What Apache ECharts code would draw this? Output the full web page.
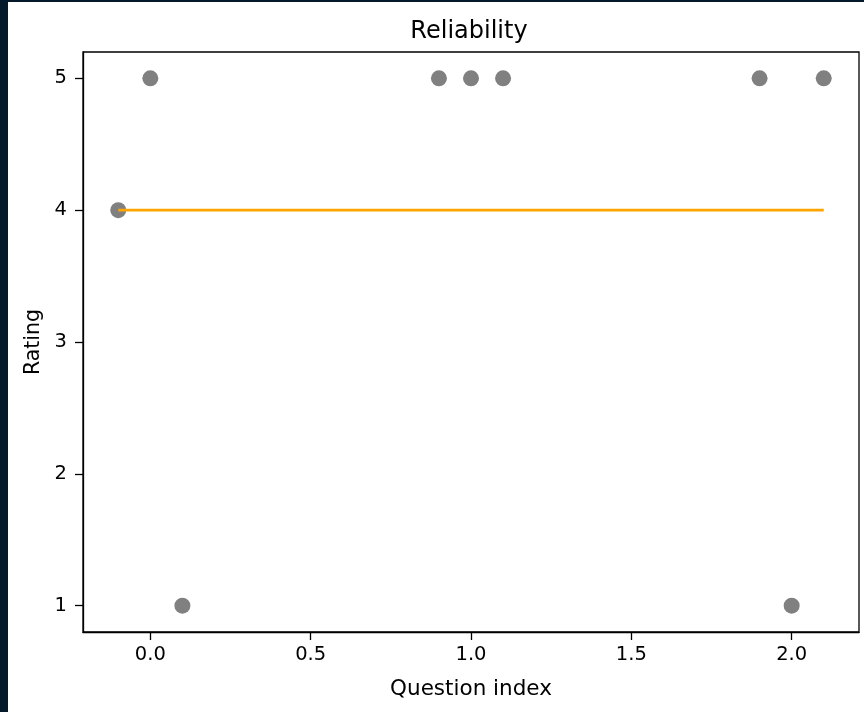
<!DOCTYPE html>
<html>
<head>
<meta charset="utf-8">
<script src="https://cdn.jsdelivr.net/npm/echarts@6/dist/echarts.min.js"></script>
<style>
    html, body {margin: 0; padding: 0; background: #04192a;}
    #chart {position: absolute; left: 8px; top: 2px; width: 856px; height: 710px; background: #ffffff;}
</style>
</head>
<body>
<div id="chart"></div>
<script>
// 数据
var questionIdx = [-0.1, 0, 0.1, 0.9, 1, 1.1, 1.9, 2, 2.1];
var ratings = [4, 5, 1, 5, 5, 5, 5, 1, 5];
var meanX = [-0.1, 2.1];
var meanY = [4, 4];
var xTicks = [0, 0.5, 1, 1.5, 2];
var yTicks = [1, 2, 3, 4, 5];

var font = 'DejaVu Sans';
var pts = questionIdx.map(function (x, i) { return [x, ratings[i]]; });
var meanLine = meanX.map(function (x, i) { return [x, meanY[i]]; });

var myChart = echarts.init(document.getElementById('chart'));
var option = {
    animation: false,
    title: {
        text: 'Reliability',
        left: 456,
        top: 13,
        textAlign: 'center',
        textStyle: {fontFamily: font, fontSize: 24, fontWeight: 'normal', color: '#000'}
    },
    grid: {
        left: 75, top: 50, right: 5, bottom: 80,
        show: true, borderColor: '#000', borderWidth: 1.3, backgroundColor: '#fff'
    },
    xAxis: {
        type: 'value',
        min: -0.21, max: 2.21,
        name: 'Question index',
        nameLocation: 'middle',
        nameGap: 46,
        nameTextStyle: {fontFamily: font, fontSize: 21.5, color: '#000'},
        axisLine: {show: true, onZero: false, lineStyle: {color: '#000', width: 1.3}},
        axisTick: {show: true, length: 8, customValues: xTicks, lineStyle: {color: '#000', width: 1.3}},
        axisLabel: {
            fontFamily: font, fontSize: 19.5, color: '#000', margin: 13,
            customValues: xTicks,
            formatter: function (v) { return v.toFixed(1); }
        },
        splitLine: {show: false}
    },
    yAxis: {
        type: 'value',
        min: 0.8, max: 5.2,
        name: 'Rating',
        nameLocation: 'middle',
        nameGap: 38,
        nameTextStyle: {fontFamily: font, fontSize: 20.5, color: '#000'},
        axisLine: {show: true, onZero: false, lineStyle: {color: '#000', width: 1.3}},
        axisTick: {show: true, length: 8, customValues: yTicks, lineStyle: {color: '#000', width: 1.3}},
        axisLabel: {
            fontFamily: font, fontSize: 19.5, color: '#000', margin: 16,
            customValues: yTicks
        },
        splitLine: {show: false}
    },
    series: [
        {
            type: 'scatter',
            data: pts,
            symbolSize: 16,
            itemStyle: {color: '#808080', opacity: 1},
            z: 2
        },
        {
            type: 'line',
            data: meanLine,
            symbol: 'none',
            lineStyle: {color: '#ffa500', width: 2.8},
            z: 3
        }
    ]
};
myChart.setOption(option);
</script>
</body>
</html>
